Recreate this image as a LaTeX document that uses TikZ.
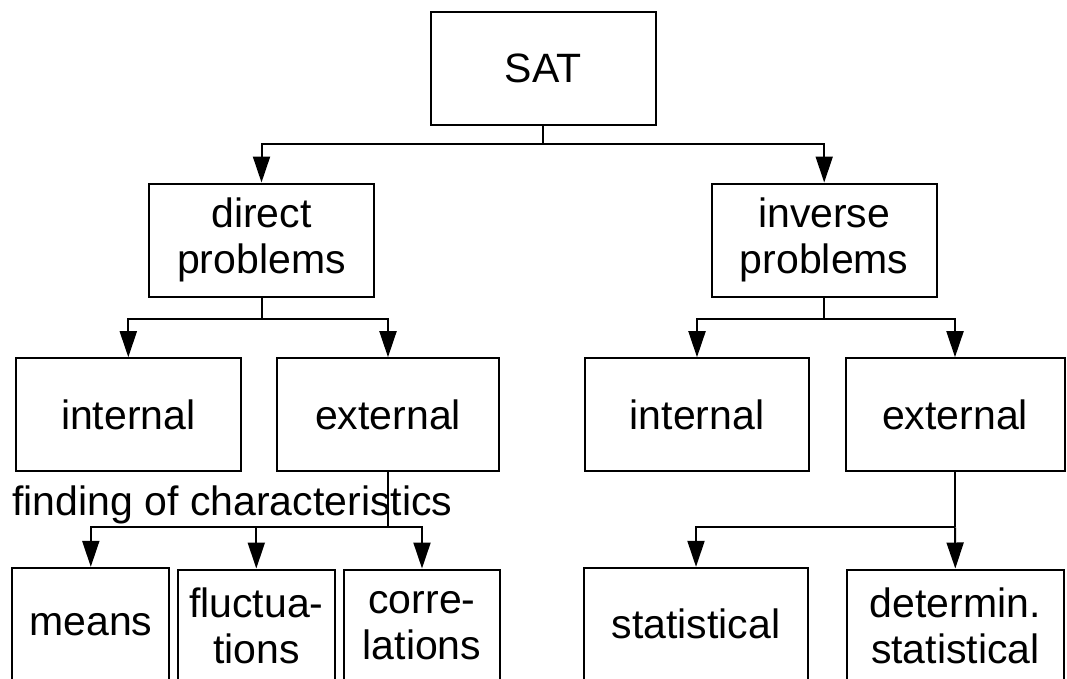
\documentclass[tikz,border=0pt]{standalone}
\usepackage{fontspec}
\setmainfont{Liberation Sans}
\usetikzlibrary{arrows.meta}

\tikzset{
    box/.style={draw, line width=2pt, minimum height=113pt, inner sep=0pt,
        align=center, font=\fontsize{41}{46}\selectfont},
    labeltext/.style={font=\fontsize{41}{46}\selectfont, inner sep=0pt}
}

\begin{document}
\begin{tikzpicture}[x=1pt, y=-1pt, line width=2pt, >={Triangle[length=26pt, width=17pt]}]
    \useasboundingbox (0,0) rectangle (1067,678);
    \clip (0,0) rectangle (1067,678);

    % top level
    \node[box, minimum width=225pt] (sat) at (543,68) {SAT};

    % second level
    \node[box, minimum width=225pt] (direct) at (261.5,240) {direct\\problems};
    \node[box, minimum width=225pt] (inverse) at (824.2,240) {inverse\\problems};

    % third level
    \node[box, minimum width=224.7pt] (intL) at (128.3,414.7) {internal};
    \node[box, minimum width=222pt] (extL) at (388,414.7) {external};
    \node[box, minimum width=224.3pt] (intR) at (697,414.7) {internal};
    \node[box, minimum width=219pt] (extR) at (955,414.7) {external};

    \node[labeltext, anchor=base west] (finding) at (11.5,515) {finding of characteristics};

    % bottom level
    \node[box, minimum width=157pt] (means) at (90.8,624.3) {means};
    \node[box, minimum width=157.3pt] (fluct) at (256.3,626) {fluctua-\\tions};
    \node[box, minimum width=156pt] (corr) at (422,626) {corre-\\lations};
    \node[box, minimum width=223.4pt] (stat) at (696,624.3) {statistical};
    \node[box, minimum width=217pt] (detstat) at (955.3,626) {determin.\\statistical};

    % forks
    \coordinate (satfork) at (543,144);
    \coordinate (directfork) at (261.5,319);
    \coordinate (inversefork) at (824.2,318.5);
    \coordinate (extLfork) at (388,527.3);
    \coordinate (extRfork) at (955,527.3);

    \draw (sat.south) -- (satfork);
    \draw[->] (satfork) -| (direct.north);
    \draw[->] (satfork) -| (inverse.north);

    \draw (direct.south) -- (directfork);
    \draw[->] (directfork) -| (intL.north);
    \draw[->] (directfork) -| (extL.north);

    \draw (inverse.south) -- (inversefork);
    \draw[->] (inversefork) -| (intR.north);
    \draw[->] (inversefork) -| (extR.north);

    \draw (extL.south) -- (extLfork);
    \draw[->] (extLfork) -| (means.north);
    \draw[->] (extLfork) -| (fluct.north);
    \draw[->] (extLfork) -| (corr.north);

    \draw (extR.south) -- (extRfork);
    \draw[->] (extRfork) -| (stat.north);
    \draw[->] (extRfork) -- (detstat.north);
\end{tikzpicture}
\end{document}
